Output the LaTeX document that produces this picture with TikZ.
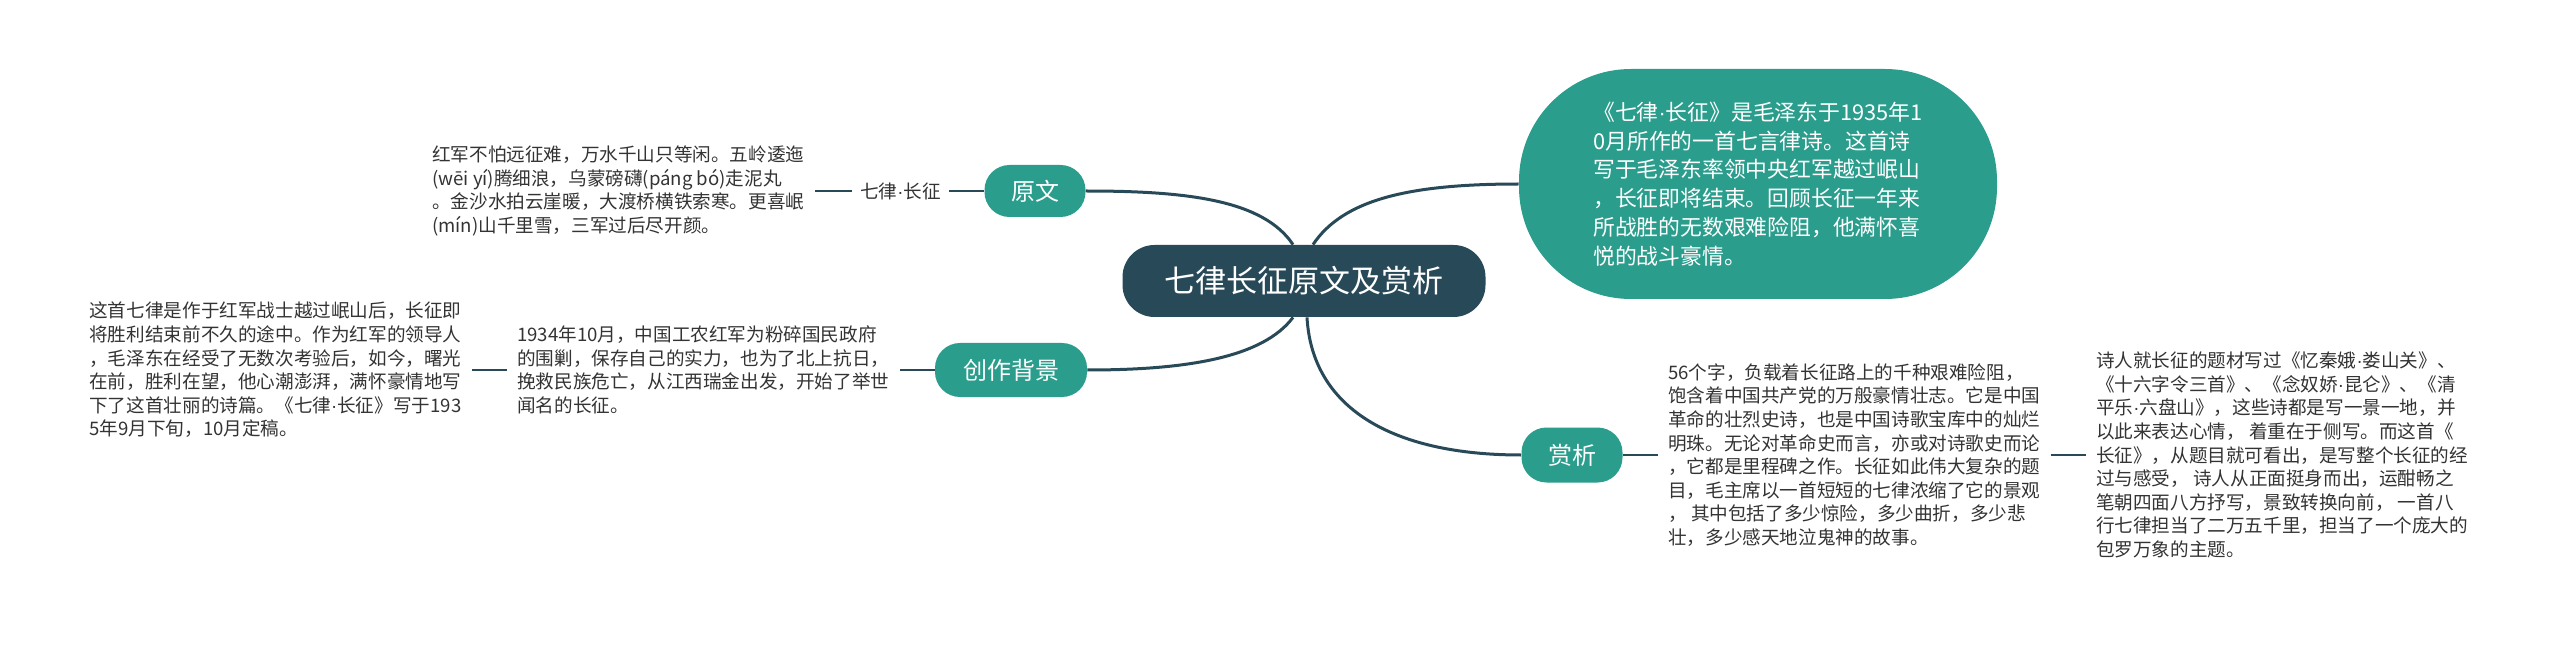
\documentclass[tikz,border=0pt]{standalone}
\usepackage{fontspec}
\newfontfamily\cjk{Noto Sans CJK SC}
\newfontfamily\dotfont{Liberation Sans}
\newcommand{\md}{{\dotfont ·}}
\usetikzlibrary{positioning}
\definecolor{hubblue}{HTML}{284958}
\definecolor{branchteal}{HTML}{2A9D8C}
\definecolor{leafgray}{HTML}{333333}

\begin{document}
\begin{tikzpicture}[x=0.5pt, y=-0.5pt, node distance=17.5pt,
  hub/.style={fill=hubblue, text=white, rounded corners=16pt, minimum width=181.5pt, minimum height=36pt, font=\cjk\fontsize{15.5}{18}\selectfont},
  branch/.style={fill=branchteal, text=white, rounded corners=12.5pt, minimum height=26pt, font=\cjk\fontsize{12}{14}\selectfont},
  leaf/.style={text=leafgray, align=left, inner sep=5pt, font=\cjk\fontsize{9.3}{11.8}\selectfont},
  link/.style={draw=hubblue, line width=1.5pt},
  twig/.style={draw=hubblue, line width=1.4pt}]
  \useasboundingbox (0,0) rectangle (2560,652);

  % centre and branches
  \node[hub] (main) at (1304,281) {七律长征原文及赏析};
  \node[branch, minimum width=50.5pt] (yuanwen) at (1035,191) {原文};
  \node[branch, minimum width=76pt, minimum height=27pt] (beijing) at (1011,370) {创作背景};
  \node[branch, minimum width=50.5pt, minimum height=27.5pt] (shangxi) at (1572,455) {赏析};
  \node[fill=branchteal, text=white, rounded corners=56pt, minimum width=239pt, minimum height=115pt,
        align=left, font=\cjk\fontsize{10.9}{14.4}\selectfont] (gaishu) at (1758,184)
    {《七律\md 长征》是毛泽东于1935年1\\0月所作的一首七言律诗。这首诗\\写于毛泽东率领中央红军越过岷山\\，长征即将结束。回顾长征一年来\\所战胜的无数艰难险阻，他满怀喜\\悦的战斗豪情。};

  % leaves
  \node[leaf, inner sep=4pt] (qllz) [left=of yuanwen] {七律\md 长征};
  \node[leaf] (ywtext) [left=18.5pt of qllz]
    {红军不怕远征难，万水千山只等闲。五岭逶迤\\(wēi yí)腾细浪，乌蒙磅礴(páng bó)走泥丸\\。金沙水拍云崖暖，大渡桥横铁索寒。更喜岷\\(mín)山千里雪，三军过后尽开颜。};
  \node[leaf] (bjtext) [left=of beijing]
    {1934年10月，中国工农红军为粉碎国民政府\\的围剿，保存自己的实力，也为了北上抗日，\\挽救民族危亡，从江西瑞金出发，开始了举世\\闻名的长征。};
  \node[leaf] (bjtext0) [left=of bjtext]
    {这首七律是作于红军战士越过岷山后，长征即\\将胜利结束前不久的途中。作为红军的领导人\\，毛泽东在经受了无数次考验后，如今，曙光\\在前，胜利在望，他心潮澎湃，满怀豪情地写\\下了这首壮丽的诗篇。《七律\md 长征》写于193\\5年9月下旬，10月定稿。};
  \node[leaf] (sxtext) [right=of shangxi]
    {56个字，负载着长征路上的千种艰难险阻，\\饱含着中国共产党的万般豪情壮志。它是中国\\革命的壮烈史诗，也是中国诗歌宝库中的灿烂\\明珠。无论对革命史而言，亦或对诗歌史而论\\，它都是里程碑之作。长征如此伟大复杂的题\\目，毛主席以一首短短的七律浓缩了它的景观\\， 其中包括了多少惊险，多少曲折，多少悲\\壮，多少感天地泣鬼神的故事。};
  \node[leaf] (sxtext2) [right=of sxtext]
    {诗人就长征的题材写过《忆秦娥\md 娄山关》、\\《十六字令三首》、《念奴娇\md 昆仑》、《清\\平乐\md 六盘山》，这些诗都是写一景一地，并\\以此来表达心情， 着重在于侧写。而这首《\\长征》，从题目就可看出，是写整个长征的经\\过与感受， 诗人从正面挺身而出，运酣畅之\\笔朝四面八方抒写，景致转换向前， 一首八\\行七律担当了二万五千里，担当了一个庞大的\\包罗万象的主题。};

  % connectors
  \coordinate (tl) at ([xshift=-5.5pt]main.north);
  \coordinate (tr) at ([xshift=4.5pt]main.north);
  \coordinate (bl) at ([xshift=-5.5pt]main.south);
  \coordinate (br) at ([xshift=1.5pt]main.south);
  \draw[link] (tl) .. controls +(-30,-45) and +(100,0) .. (yuanwen.east);
  \draw[link] (tr) .. controls +(30,-45) and +(-110,0) .. (gaishu.west);
  \draw[link] (bl) .. controls +(-30,40) and +(100,0) .. (beijing.east);
  \draw[link] (br) .. controls +(5,90) and +(-130,0) .. (shangxi.west);
  \draw[twig] (yuanwen) -- (qllz) (qllz) -- (ywtext);
  \draw[twig] (beijing) -- (bjtext) (bjtext) -- (bjtext0);
  \draw[twig] (shangxi) -- (sxtext) (sxtext) -- (sxtext2);
\end{tikzpicture}
\end{document}
